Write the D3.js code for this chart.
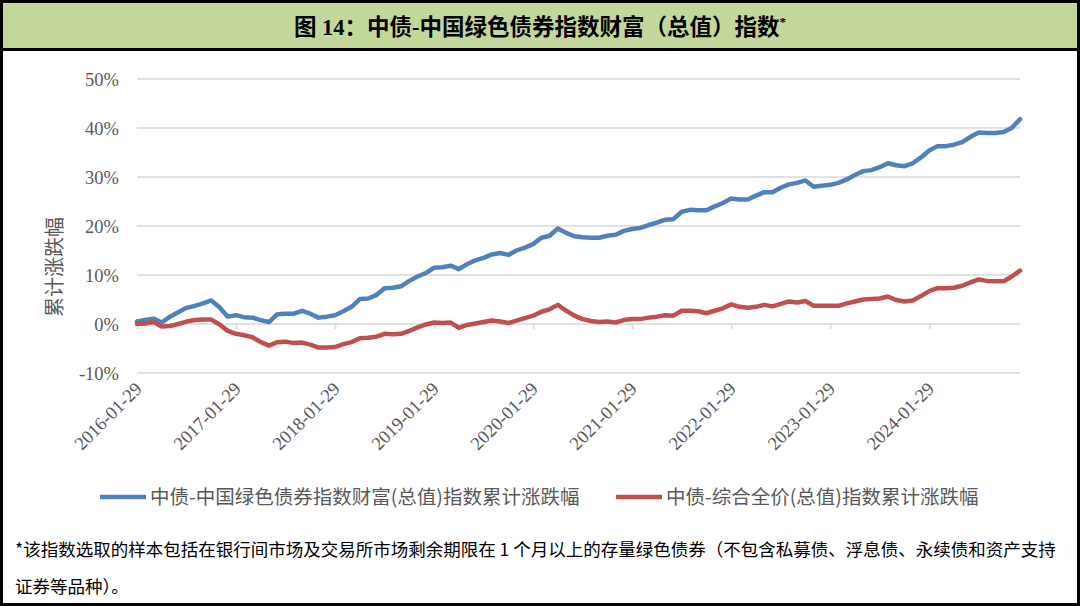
<!DOCTYPE html>
<html><head><meta charset="utf-8">
<script src="https://cdn.jsdelivr.net/npm/d3@7"></script>
<style>
html,body{margin:0;padding:0;background:#fff;}
svg{display:block;}
</style></head>
<body>
<svg id="chart" width="1080" height="606"></svg>
<script>
// ---- data ----
const titleText = "图 14：中债-中国绿色债券指数财富（总值）指数";
const yAxisTitle = "累计涨跌幅";
const seriesNames = ["中债-中国绿色债券指数财富(总值)指数累计涨跌幅", "中债-综合全价(总值)指数累计涨跌幅"];
const footnoteLines = [
  "*该指数选取的样本包括在银行间市场及交易所市场剩余期限在 1 个月以上的存量绿色债券（不包含私募债、浮息债、永续债和资产支持",
  "证券等品种）。"
];
const yTicks = [-10, 0, 10, 20, 30, 40, 50];
const xTickLabels = ["2016-01-29","2017-01-29","2018-01-29","2019-01-29","2020-01-29","2021-01-29","2022-01-29","2023-01-29","2024-01-29"];
// monthly categories Jan 2016 .. Dec 2024
const months = [];
for (let yr = 2016; yr <= 2024; yr++) for (let m = 1; m <= 12; m++) months.push(yr + "-" + String(m).padStart(2, "0"));

const greenWealth = [0.5,0.8,1.1,0.3,1.5,2.4,3.3,3.7,4.2,4.8,
 3.4,1.5,1.8,1.4,1.3,0.8,0.4,2.0,2.1,2.1,
 2.7,2.1,1.3,1.5,1.8,2.6,3.5,5.1,5.2,5.9,
 7.3,7.4,7.7,8.8,9.7,10.4,11.5,11.6,11.9,11.2,
 12.2,13.0,13.5,14.2,14.5,14.1,15.0,15.6,16.3,17.6,
 18.0,19.5,18.6,17.9,17.7,17.6,17.6,18.0,18.2,19.0,
 19.4,19.6,20.2,20.7,21.3,21.4,22.9,23.3,23.2,23.2,
 24.0,24.7,25.6,25.4,25.4,26.2,26.9,26.9,27.8,28.5,
 28.8,29.3,28.0,28.2,28.4,28.8,29.5,30.4,31.2,31.4,
 32.0,32.8,32.4,32.2,32.8,34.0,35.4,36.3,36.3,36.6,
 37.1,38.2,39.1,39.0,39.0,39.2,40.0,41.8];
const compositePrice = [0.0,0.1,0.4,-0.5,-0.4,0.0,0.5,0.8,0.9,0.9,
 -0.1,-1.4,-2.0,-2.3,-2.7,-3.7,-4.4,-3.7,-3.6,-3.9,
 -3.8,-4.2,-4.8,-4.8,-4.7,-4.1,-3.7,-2.9,-2.8,-2.6,
 -2.0,-2.1,-2.0,-1.4,-0.7,-0.1,0.3,0.2,0.3,-0.8,
 -0.2,0.1,0.4,0.7,0.5,0.2,0.7,1.2,1.7,2.5,
 3.0,3.9,2.7,1.7,1.0,0.6,0.4,0.5,0.3,0.8,
 1.0,1.0,1.3,1.5,1.8,1.7,2.7,2.7,2.6,2.2,
 2.7,3.2,4.0,3.5,3.3,3.5,3.9,3.6,4.1,4.6,
 4.4,4.7,3.7,3.7,3.7,3.7,4.2,4.6,5.0,5.1,
 5.2,5.6,4.9,4.6,4.8,5.7,6.7,7.3,7.3,7.4,
 7.8,8.5,9.1,8.8,8.7,8.7,9.7,10.9];
const colors = ["#4f81bd", "#c0504d"];

// ---- drawing ----
(function () {
const svg = d3.select("#chart");
const W = 1080, H = 606;
const pL = 137, pR = 1020, pT = 79, pB = 373;
const gray = "#595959";

svg.append("rect").attr("x",0).attr("y",0).attr("width",W).attr("height",H).attr("fill","#fff");

// title band
svg.append("rect").attr("x",2).attr("y",2).attr("width",W-4).attr("height",47).attr("fill","#c4d79b");
svg.append("line").attr("x1",0).attr("x2",W).attr("y1",49.5).attr("y2",49.5).attr("stroke","#000").attr("stroke-width",3);
const tt = svg.append("text").attr("x",W/2).attr("y",35).attr("text-anchor","middle")
  .attr("font-family","'Liberation Serif','Noto Sans CJK SC',serif").attr("font-weight","bold")
  .attr("font-size",22.5).attr("fill","#000");
tt.append("tspan").text(titleText);
tt.append("tspan").attr("font-size",13).attr("dy",-9).text("*");

// outer frame
svg.append("rect").attr("x",1.5).attr("y",1.5).attr("width",W-3).attr("height",H-3)
  .attr("fill","none").attr("stroke","#000").attr("stroke-width",3);

const x = d3.scalePoint().domain(months).range([pL, pR]);
const y = d3.scaleLinear().domain([-10, 50]).range([pB, pT]);

// gridlines
svg.append("g").selectAll("line").data(yTicks.filter(d => d !== 0)).join("line")
  .attr("x1", pL).attr("x2", pR).attr("y1", d => y(d)).attr("y2", d => y(d))
  .attr("stroke", "#d9d9d9").attr("stroke-width", 1.5);

// y axis labels
const yAxis = d3.axisLeft(y).tickValues(yTicks).tickSize(0).tickPadding(0).tickFormat(d => d + "%");
const gy = svg.append("g").attr("transform", `translate(${pL - 18},0)`).call(yAxis);
gy.select(".domain").remove();
gy.selectAll("text").attr("font-family","'Liberation Serif',serif").attr("font-size",18.5)
  .attr("fill",gray).attr("dy","0.34em");

// x axis at 0%
const tickCats = xTickLabels.map(l => l.slice(0,7));
const xAxis = d3.axisBottom(x).tickValues(tickCats).tickSize(5).tickFormat("");
const gx = svg.append("g").attr("transform", `translate(0,${y(0)})`).call(xAxis);
gx.select(".domain").attr("stroke","#d9d9d9").attr("stroke-width",1.5).attr("d", `M${pL},0H${pR}`);
gx.selectAll(".tick line").attr("stroke","#d9d9d9").attr("stroke-width",1.5);

// x labels at bottom, rotated
svg.append("g").selectAll("text").data(xTickLabels).join("text")
  .attr("transform", d => `translate(${x(d.slice(0,7)) + 6},${pB + 17}) rotate(-45)`)
  .attr("text-anchor","end").attr("font-family","'Liberation Serif',serif")
  .attr("font-size",18.5).attr("fill",gray).text(d => d);

// y axis title
svg.append("text").attr("transform","translate(62,267) rotate(-90)").attr("text-anchor","middle")
  .attr("font-family","'Noto Sans CJK SC',sans-serif").attr("font-size",20).attr("fill",gray).text(yAxisTitle);

// lines
const line = d3.line().x((d,i) => x(months[i])).y(d => y(d));
[greenWealth, compositePrice].forEach((s, k) => {
  svg.append("path").datum(s).attr("d", line).attr("fill","none")
    .attr("stroke", colors[k]).attr("stroke-width", 4.5)
    .attr("stroke-linejoin","round").attr("stroke-linecap","round");
});

// legend
const legendPos = [{lx:100, tx:150}, {lx:616, tx:666}];
seriesNames.forEach((n, k) => {
  const p = legendPos[k];
  svg.append("line").attr("x1",p.lx).attr("x2",p.lx+46).attr("y1",497).attr("y2",497)
    .attr("stroke",colors[k]).attr("stroke-width",4.5);
  svg.append("text").attr("x",p.tx).attr("y",504).attr("font-family","'Noto Sans CJK SC',sans-serif")
    .attr("font-size",19.5).attr("fill",gray).text(n);
});

// footnote
footnoteLines.forEach((t, i) => {
  svg.append("text").attr("x",15).attr("y",[556,593][i]).attr("font-family","'Noto Sans CJK SC',sans-serif")
    .attr("font-size",17.5).attr("fill","#000").text(t);
});
})();
</script>
</body></html>
